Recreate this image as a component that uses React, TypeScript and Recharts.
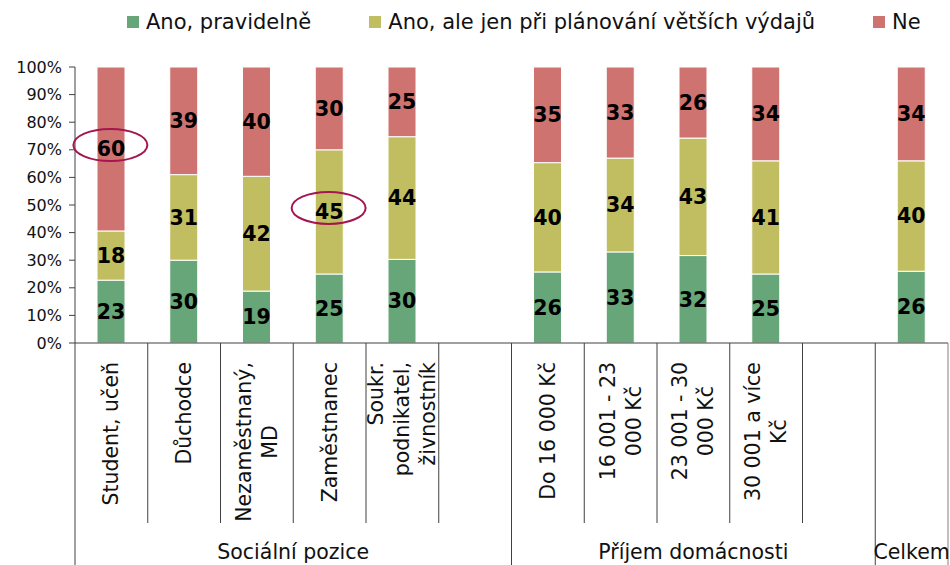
import React from "react";
import {
  BarChart,
  Bar,
  XAxis,
  YAxis,
  LabelList,
  ReferenceDot,
} from "recharts";

// ---------- data ----------
const categories = [
  "Student, učeň",
  "Důchodce",
  "Nezaměstnaný, MD",
  "Zaměstnanec",
  "Soukr. podnikatel, živnostník",
  "(mezera 1)",
  "Do 16 000 Kč",
  "16 001 - 23 000 Kč",
  "23 001 - 30 000 Kč",
  "30 001 a více Kč",
  "(mezera 2)",
  "Celkem",
];

const categoryLines: string[][] = [
  ["Student, učeň"],
  ["Důchodce"],
  ["Nezaměstnaný,", "MD"],
  ["Zaměstnanec"],
  ["Soukr.", "podnikatel,", "živnostník"],
  [],
  ["Do 16 000 Kč"],
  ["16 001 - 23", "000 Kč"],
  ["23 001 - 30", "000 Kč"],
  ["30 001 a více", "Kč"],
  [],
  [],
];

const groupNames = ["Sociální pozice", "Příjem domácnosti", "Celkem"];
const groupSizes = [6, 5, 1];

const seriesNames = [
  "Ano, pravidelně",
  "Ano, ale jen při plánování větších výdajů",
  "Ne",
];
const seriesColors = ["#67A678", "#C0BE60", "#CF7370"];

const regularly = [23, 30, 19, 25, 30, null, 26, 33, 32, 25, null, 26];
const whenPlanning = [18, 31, 42, 45, 44, null, 40, 34, 43, 41, null, 40];
const no = [60, 39, 40, 30, 25, null, 35, 33, 26, 34, null, 34];

const yTicks = [0, 0.1, 0.2, 0.3, 0.4, 0.5, 0.6, 0.7, 0.8, 0.9, 1];

// highlighted labels: [category, series index]
const highlights: [string, number][] = [
  ["Student, učeň", 2],
  ["Zaměstnanec", 1],
];

const seriesValues = [regularly, whenPlanning, no];

const data = categories.map((c, i) => ({
  cat: c,
  s0: regularly[i],
  s1: whenPlanning[i],
  s2: no[i],
}));

// ---------- layout ----------
const W = 950;
const H = 565;
const PLOT_LEFT = 75;
const PLOT_RIGHT_MARGIN = 2;
const SLOT = (W - PLOT_LEFT - PLOT_RIGHT_MARGIN) / categories.length;
const FONT = "'DejaVu Sans', Verdana, sans-serif";
const CAT_FONT_SIZE = 20.5;
const AXIS_COLOR = "#404040";
const END_ALIGNED = new Set(["Soukr. podnikatel, živnostník"]);

let ctx: CanvasRenderingContext2D | null = null;
function measure(t: string, size: number) {
  if (!ctx) {
    const c = document.createElement("canvas");
    ctx = c.getContext("2d");
  }
  if (!ctx) return t.length * size * 0.6;
  ctx.font = `${size}px 'DejaVu Sans'`;
  return ctx.measureText(t).width;
}

const groupEnds: number[] = [];
{
  let acc = 0;
  groupSizes.forEach((s) => {
    acc += s;
    groupEnds.push(acc - 1);
  });
}

function CategoryTick(props: any) {
  const { x, y, payload } = props;
  const i = categories.indexOf(payload.value);
  const lines = categoryLines[i] || [];
  const els: React.ReactNode[] = [];
  const bottom = H;
  const shortBottom = y + 180;

  // left continuation of y axis
  if (i === 0) {
    els.push(
      <line key="l0" x1={x - SLOT / 2} x2={x - SLOT / 2} y1={y} y2={bottom} stroke={AXIS_COLOR} strokeWidth={1} />
    );
  }
  const gIdx = groupEnds.indexOf(i);
  const rx = x + SLOT / 2;
  els.push(
    <line
      key="sep"
      x1={rx}
      x2={rx}
      y1={y}
      y2={gIdx >= 0 ? bottom : shortBottom}
      stroke={i === categories.length - 1 ? "#808080" : AXIS_COLOR}
      strokeWidth={1}
    />
  );

  if (lines.length) {
    const endAligned = END_ALIGNED.has(payload.value);
    const maxW = Math.max(...lines.map((l) => measure(l, CAT_FONT_SIZE)));
    const top = y + 19;
    const cy = endAligned ? top : top + maxW / 2;
    const lh = 26;
    lines.forEach((l, j) => {
      const lx = x + (j - (lines.length - 1) / 2) * lh;
      els.push(
        <text
          key={"t" + j}
          x={lx}
          y={cy}
          transform={`rotate(-90, ${lx}, ${cy})`}
          textAnchor={endAligned ? "end" : "middle"}
          dominantBaseline="central"
          fontSize={CAT_FONT_SIZE}
          fontFamily={FONT}
          fill="#111"
        >
          {l}
        </text>
      );
    });
  }

  if (gIdx >= 0) {
    const size = groupSizes[gIdx];
    const gx = rx - (size * SLOT) / 2;
    els.push(
      <text
        key="g"
        x={gx}
        y={559}
        textAnchor="middle"
        fontSize={CAT_FONT_SIZE}
        fontFamily={FONT}
        fill="#111"
      >
        {groupNames[gIdx]}
      </text>
    );
  }
  return <g>{els}</g>;
}

function ellipseShape(props: any) {
  const { cx, cy } = props;
  return (
    <ellipse
      cx={cx - 1}
      cy={cy - 4}
      rx={37}
      ry={16}
      fill="none"
      stroke="#A3164F"
      strokeWidth={2}
    />
  );
}

function highlightY(cat: string, s: number) {
  const i = categories.indexOf(cat);
  const vals = seriesValues.map((arr) => arr[i] || 0);
  const total = vals.reduce((a, b) => a + b, 0);
  let below = 0;
  for (let k = 0; k < s; k++) below += vals[k];
  return (below + vals[s] / 2) / total;
}

export default function App() {
  return (
    <div
      style={{
        position: "absolute",
        left: 0,
        top: 0,
        width: W,
        height: H,
        background: "#fff",
        fontFamily: FONT,
      }}
    >
      <div
        style={{
          position: "absolute",
          left: 127,
          top: 7,
          height: 30,
          display: "flex",
          alignItems: "center",
          gap: 58,
          whiteSpace: "nowrap",
        }}
      >
        {seriesNames.map((n, k) => (
          <div key={n} style={{ display: "flex", alignItems: "center" }}>
            <div
              style={{
                width: 12,
                height: 12,
                background: seriesColors[k],
                marginRight: 7,
              }}
            />
            <span style={{ fontSize: 21, color: "#111" }}>{n}</span>
          </div>
        ))}
      </div>
      <BarChart
        width={W}
        height={H}
        data={data}
        stackOffset="expand"
        barSize={28}
        margin={{ top: 67, right: PLOT_RIGHT_MARGIN, left: 0, bottom: 0 }}
        style={{ position: "absolute", left: 0, top: 0 }}
      >
        <XAxis
          dataKey="cat"
          interval={0}
          height={222}
          tickSize={0}
          tickMargin={0}
          tickLine={false}
          axisLine={{ stroke: AXIS_COLOR, strokeWidth: 1 }}
          tick={<CategoryTick />}
        />
        <YAxis
          width={PLOT_LEFT}
          domain={[0, 1]}
          ticks={yTicks}
          tickSize={6}
          tickMargin={7}
          axisLine={{ stroke: AXIS_COLOR, strokeWidth: 1 }}
          tickLine={{ stroke: AXIS_COLOR, strokeWidth: 1 }}
          tick={{ fontSize: 16, fontFamily: FONT, fill: "#111" }}
          tickFormatter={(v: number) => `${Math.round(v * 100)}%`}
        />
        {seriesNames.map((n, k) => (
          <Bar
            key={n}
            dataKey={"s" + k}
            name={n}
            stackId="a"
            fill={seriesColors[k]}
            stroke="#fff"
            strokeWidth={1}
            isAnimationActive={false}
          >
            <LabelList
              dataKey={"s" + k}
              position="center"
              fontSize={20.5}
              fontWeight="bold"
              fontFamily={FONT}
              fill="#000"
            />
          </Bar>
        ))}
        {highlights.map(([c, s]) => (
          <ReferenceDot
            key={c}
            x={c}
            y={highlightY(c, s)}
            r={1}
            ifOverflow="visible"
            shape={ellipseShape}
          />
        ))}
      </BarChart>
    </div>
  );
}
